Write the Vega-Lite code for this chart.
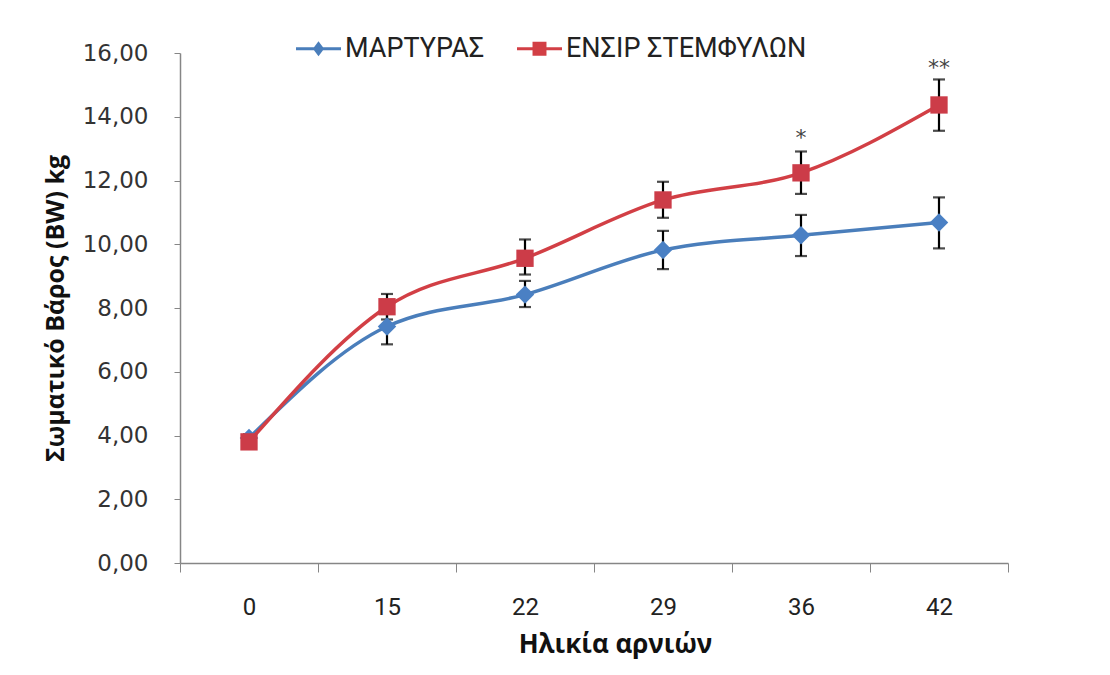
{
  "$schema": "https://vega.github.io/schema/vega-lite/v6.json",
  "width": 828,
  "height": 510,
  "autosize": {"type": "none"},
  "padding": {"left": 180, "top": 53, "right": 102, "bottom": 112},
  "background": "white",
  "config": {"view": {"stroke": null}, "font": "Open Sans"},
  "datasets": {
    "bw": [
      {"day": "0", "series": "ΜΑΡΤΥΡΑΣ", "mean": 3.92, "lo": 3.8, "hi": 4.04},
      {"day": "15", "series": "ΜΑΡΤΥΡΑΣ", "mean": 7.42, "lo": 6.86, "hi": 7.98},
      {"day": "22", "series": "ΜΑΡΤΥΡΑΣ", "mean": 8.42, "lo": 8.03, "hi": 8.85},
      {"day": "29", "series": "ΜΑΡΤΥΡΑΣ", "mean": 9.82, "lo": 9.22, "hi": 10.42},
      {"day": "36", "series": "ΜΑΡΤΥΡΑΣ", "mean": 10.28, "lo": 9.63, "hi": 10.92},
      {"day": "42", "series": "ΜΑΡΤΥΡΑΣ", "mean": 10.68, "lo": 9.87, "hi": 11.47},
      {"day": "0", "series": "ΕΝΣΙΡ ΣΤΕΜΦΥΛΩΝ", "mean": 3.8, "lo": 3.68, "hi": 3.92},
      {"day": "15", "series": "ΕΝΣΙΡ ΣΤΕΜΦΥΛΩΝ", "mean": 8.04, "lo": 7.64, "hi": 8.44},
      {"day": "22", "series": "ΕΝΣΙΡ ΣΤΕΜΦΥΛΩΝ", "mean": 9.56, "lo": 9.05, "hi": 10.15},
      {"day": "29", "series": "ΕΝΣΙΡ ΣΤΕΜΦΥΛΩΝ", "mean": 11.39, "lo": 10.83, "hi": 11.96},
      {"day": "36", "series": "ΕΝΣΙΡ ΣΤΕΜΦΥΛΩΝ", "mean": 12.24, "lo": 11.58, "hi": 12.91},
      {"day": "42", "series": "ΕΝΣΙΡ ΣΤΕΜΦΥΛΩΝ", "mean": 14.37, "lo": 13.56, "hi": 15.17}
    ],
    "stars": [
      {"day": "36", "label": "*", "y": 13.33},
      {"day": "42", "label": "**", "y": 15.53}
    ]
  },
  "data": {"name": "bw"},
  "encoding": {
    "x": {
      "field": "day",
      "type": "ordinal",
      "sort": ["0", "15", "22", "29", "36", "42"],
      "scale": {"type": "band", "paddingInner": 0, "paddingOuter": 0},
      "axis": {
        "title": "Ηλικία αρνιών",
        "labelAngle": 0,
        "tickBand": "extent",
        "tickSize": 9,
        "tickColor": "#868686",
        "domainColor": "#868686",
        "domainWidth": 1.5,
        "labelFont": "Liberation Sans Narrow, Roboto, sans-serif",
        "labelFontSize": 24,
        "labelColor": "#222222",
        "labelPadding": 23,
        "titleFont": "Open Sans",
        "titleFontSize": 26,
        "titleFontWeight": "bold",
        "titleColor": "#111111",
        "titlePadding": 12,
        "titleX": 435
      }
    }
  },
  "layer": [
    {
      "mark": {"type": "errorbar", "color": "black", "ticks": {"size": 12, "thickness": 2.2, "color": "black"}, "rule": {"strokeWidth": 2.2, "color": "black"}},
      "encoding": {
        "y": {
          "field": "lo",
          "type": "quantitative",
          "scale": {"domain": [0, 16], "nice": false, "zero": true},
          "axis": {
            "title": "Σωματικό Βάρος (BW) kg",
            "values": [0, 2, 4, 6, 8, 10, 12, 14, 16],
            "labelExpr": "replace(format(datum.value, '.2f'), '.', ',')",
            "grid": false,
            "tickSize": 6,
            "tickColor": "#868686",
            "domainColor": "#868686",
            "domainWidth": 1.5,
            "labelFont": "DejaVu Sans",
            "labelFontSize": 23,
            "labelColor": "#333333",
            "labelPadding": 26,
            "titleFont": "Open Sans",
            "titleFontSize": 25,
            "titleFontWeight": "bold",
            "titleColor": "#111111",
            "titlePadding": 14
          }
        },
        "y2": {"field": "hi"}
      }
    },
    {
      "transform": [{"filter": "datum.series === 'ΜΑΡΤΥΡΑΣ'"}],
      "mark": {"type": "line", "interpolate": "monotone", "strokeWidth": 3.5, "color": "#4a7ebb"},
      "encoding": {"y": {"field": "mean", "type": "quantitative"}}
    },
    {
      "transform": [{"filter": "datum.series === 'ΕΝΣΙΡ ΣΤΕΜΦΥΛΩΝ'"}],
      "mark": {"type": "line", "interpolate": "monotone", "strokeWidth": 3.5, "color": "#d23f45"},
      "encoding": {"y": {"field": "mean", "type": "quantitative"}}
    },
    {
      "transform": [{"filter": "datum.series === 'ΜΑΡΤΥΡΑΣ'"}],
      "mark": {"type": "point", "shape": "diamond", "filled": true, "opacity": 1, "size": 340, "color": "#4a80c4"},
      "encoding": {"y": {"field": "mean", "type": "quantitative"}}
    },
    {
      "transform": [{"filter": "datum.series === 'ΕΝΣΙΡ ΣΤΕΜΦΥΛΩΝ'"}],
      "mark": {"type": "point", "shape": "square", "filled": true, "opacity": 1, "size": 300, "color": "#cc3c48"},
      "encoding": {"y": {"field": "mean", "type": "quantitative"}}
    },
    {
      "transform": [{"filter": "datum.mean < 0"}],
      "mark": {"type": "point", "filled": true, "opacity": 1},
      "encoding": {
        "y": {"field": "mean", "type": "quantitative"},
        "color": {
          "field": "series",
          "type": "nominal",
          "scale": {"domain": ["ΜΑΡΤΥΡΑΣ", "ΕΝΣΙΡ ΣΤΕΜΦΥΛΩΝ"], "range": ["#4a7ebb", "#d23f45"]},
          "legend": {
            "title": null,
            "orient": "none",
            "direction": "horizontal",
            "legendX": 116,
            "legendY": -27,
            "symbolSize": 2025,
            "symbolStrokeWidth": 0,
            "labelFont": "Liberation Sans Narrow, Roboto, sans-serif",
            "labelFontSize": 27,
            "labelColor": "#222222",
            "labelOffset": 4,
            "labelLimit": 0,
            "columnPadding": 32
          }
        },
        "shape": {
          "field": "series",
          "type": "nominal",
          "scale": {
            "domain": ["ΜΑΡΤΥΡΑΣ", "ΕΝΣΙΡ ΣΤΕΜΦΥΛΩΝ"],
            "range": [
              "M-1,-0.07H1V0.07H-1Z M0,-0.33L0.25,0L0,0.33L-0.25,0Z",
              "M-1,-0.07H1V0.07H-1Z M-0.31,-0.31H0.31V0.31H-0.31Z"
            ]
          },
          "legend": {
            "title": null,
            "orient": "none",
            "direction": "horizontal",
            "legendX": 116,
            "legendY": -27,
            "symbolSize": 2025,
            "symbolStrokeWidth": 0,
            "labelFont": "Liberation Sans Narrow, Roboto, sans-serif",
            "labelFontSize": 27,
            "labelColor": "#222222",
            "labelOffset": 4,
            "labelLimit": 0,
            "columnPadding": 32
          }
        }
      }
    },
    {
      "data": {"name": "stars"},
      "mark": {"type": "text", "fontSize": 22, "color": "#444444", "font": "DejaVu Sans"},
      "encoding": {
        "y": {"field": "y", "type": "quantitative"},
        "text": {"field": "label"}
      }
    }
  ]
}
